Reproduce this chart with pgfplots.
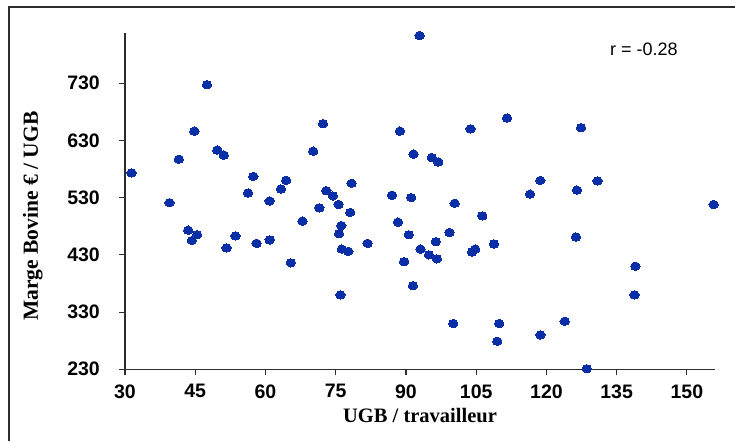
\documentclass[border=0pt]{standalone}
\usepackage{pgfplots}
\pgfplotsset{compat=1.18}
\usepackage{fontspec}
\setmainfont{Liberation Serif}
\newfontfamily\arial{Liberation Sans}
\definecolor{dotblue}{RGB}{10,46,165}
\definecolor{axgray}{RGB}{45,45,45}
\pgfplotstableread{
x y
31.4 573
39.5 521
41.5 597
43.5 473
44.3 455
44.8 646
45.4 465
47.5 727
49.7 613
51.1 604
51.7 442
53.6 463
56.3 538
57.4 567
58.1 450
60.9 524
60.9 456
63.3 545
64.4 560
65.4 416
67.9 489
70.2 611
71.5 512
72.3 659
73.0 542
74.4 533
75.6 518
75.7 467
76.2 481
76.3 440
76.0 360
77.7 436
78.1 504
78.4 555
81.8 450
87.0 534
88.3 487
88.7 646
89.6 418
90.6 465
91.1 530
91.5 376
91.6 606
92.9 813
93.1 440
94.9 430
95.5 600
96.4 453
96.6 423
96.9 592
99.3 469
100.1 310
100.4 520
103.8 650
104.1 435
104.8 440
106.3 498
108.8 449
109.5 279
109.9 310
111.6 669
116.5 536
118.7 560
118.7 290
123.9 314
126.3 461
126.5 543
127.4 652
128.6 231
130.9 559
138.8 360
139.0 410
155.7 518
}\datatable
\begin{document}
\begin{tikzpicture}[x=1pt,y=1pt]
\path[use as bounding box] (0,0) rectangle (735,441);
\draw[axgray, line width=1.8pt] (9,0) -- (9,434.3) -- (735,434.3);
\begin{axis}[
  at={(125pt,71.7pt)}, anchor=south west,
  scale only axis, width=590pt, height=336.6pt,
  xmin=30, xmax=156, ymin=230, ymax=818,
  axis x line*=bottom, axis y line*=left,
  axis line style={axgray, line width=1.2pt},
  xtick={30,45,...,150}, ytick={230,330,...,730},
  tick align=outside, major tick length=6pt,
  tick style={axgray, line width=1.1pt},
  /pgf/number format/assume math mode=true,
  ticklabel style={font=\fontsize{19.5}{22}\selectfont\arial\bfseries, inner sep=0pt},
  yticklabel style={xshift=-19pt},
  xticklabel style={yshift=-9pt},
  xlabel={UGB / travailleur},
  ylabel={Marge Bovine € / UGB},
  every axis x label/.style={at={(axis description cs:0.5,-0.1595)}, anchor=base, font=\fontsize{20.5}{24}\selectfont\bfseries},
  every axis y label/.style={at={(axis description cs:-0.1475,0.455)}, rotate=90, anchor=base, font=\fontsize{21.5}{24}\selectfont\bfseries},
  clip=false,
]
\addplot[only marks, mark=*, mark size=4.2pt, mark options={xscale=1.12, fill=dotblue, draw=dotblue, line width=0pt}] table[x=x,y=y] {\datatable};
\node[anchor=base west, font=\fontsize{18}{20}\selectfont\arial] at (rel axis cs:0.8164,0.9317) {r = -0.28};
\end{axis}
\end{tikzpicture}
\end{document}
